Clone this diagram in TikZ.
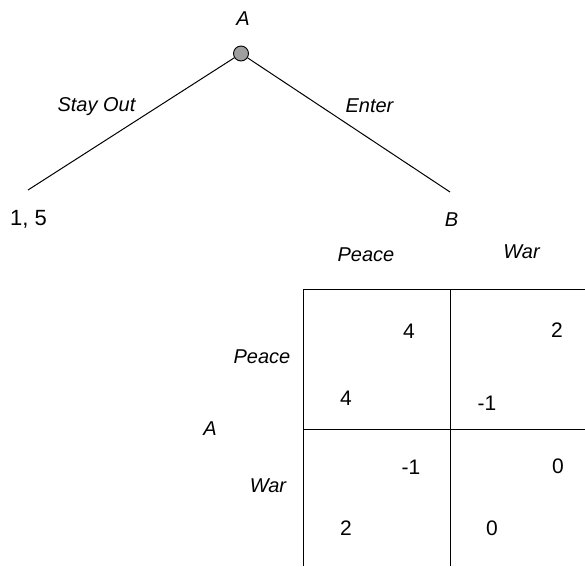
\documentclass[tikz,border=0pt]{standalone}
\usepackage{fontspec}
\setmainfont{Liberation Sans}
\begin{document}
\begin{tikzpicture}[x=1pt,y=-1pt,
  lbl/.style={font=\fontsize{20}{23}\selectfont\itshape, inner sep=0pt, anchor=center},
  pay/.style={font=\fontsize{21}{25}\selectfont, inner sep=0pt, anchor=center},
  decision/.style={circle, draw=black, fill=gray!75, minimum size=15pt, inner sep=0pt, line width=0.9pt},
  branch/.style={line width=1pt},
  grid line/.style={line width=1pt}]
\useasboundingbox (0,0) rectangle (585,566);

% game tree
\node[decision] (root) at (241,53.5) {};
\coordinate (outEnd) at (28,190);
\coordinate (inEnd) at (450,192);
\draw[branch] (root) -- (outEnd);
\draw[branch] (root) -- (inEnd);

\node[lbl] (rootA) at (243,18.5) {A};
\node[lbl] (stay) at (96.5,107) {Stay Out};
\node[lbl] (enter) at (369.5,106) {Enter};
\node[pay, font=\fontsize{22}{26}\selectfont] (outPay) at (28.5,219) {1, 5};
\node[lbl] (nodeB) at (451.5,220) {B};

% payoff matrix
\coordinate (tl) at (303,289);
\coordinate (tm) at (450,289);
\coordinate (tr) at (585,289);
\coordinate (ml) at (303,429);
\coordinate (mr) at (585,429);
\coordinate (bl) at (303,566);
\coordinate (bm) at (450,566);
\draw[grid line] (tr) -- (tl) -- (bl);
\draw[grid line] (tm) -- (bm);
\draw[grid line] (ml) -- (mr);

\node[lbl] (colPeace) at (366,254.5) {Peace};
\node[lbl] (colWar) at (521.5,252) {War};
\node[lbl] (rowPeace) at (262,357) {Peace};
\node[lbl] (rowA) at (210,428.5) {A};
\node[lbl] (rowWar) at (268,486) {War};

\node[pay] (ppB) at (409,331) {4};
\node[pay] (pwB) at (557,330) {2};
\node[pay] (ppA) at (346,398) {4};
\node[pay] (pwA) at (487,403) {-1};
\node[pay] (wpB) at (411,467) {-1};
\node[pay] (wwB) at (558,466) {0};
\node[pay] (wpA) at (346,528) {2};
\node[pay] (wwA) at (492,528) {0};
\end{tikzpicture}
\end{document}
